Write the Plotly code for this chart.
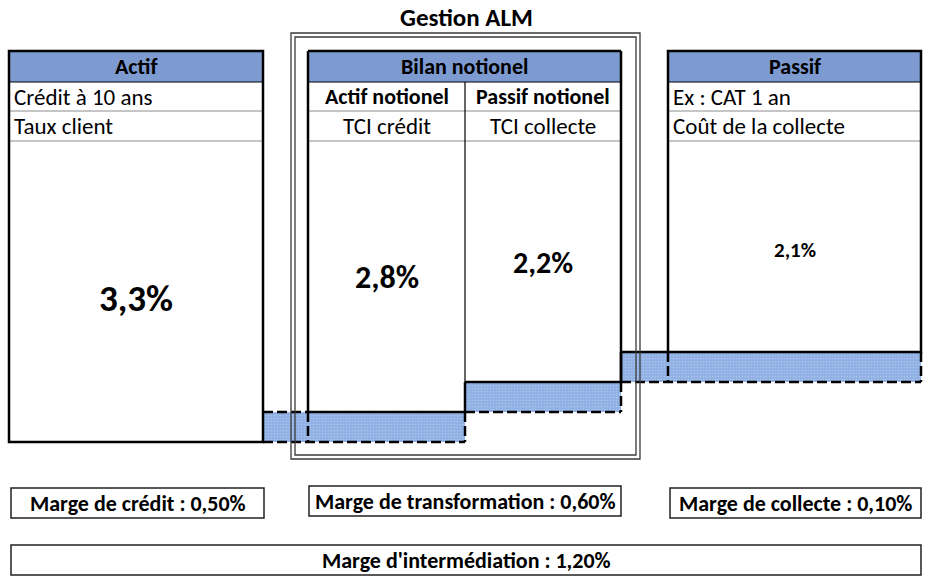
import plotly.graph_objects as go

# ---- data ----
title = "Gestion ALM"
col_titles = ["Actif", "Bilan notionel", "Passif"]
actif_rows = ["Crédit à 10 ans", "Taux client"]
passif_rows = ["Ex : CAT 1 an", "Coût de la collecte"]
notional_heads = ["Actif notionel", "Passif notionel"]
notional_rows = ["TCI crédit", "TCI collecte"]
rates = [3.3, 2.8, 2.2, 2.1]          # Actif, Actif notionel, Passif notionel, Passif
margin_names = ["Marge de crédit", "Marge de transformation", "Marge de collecte"]
margin_values = [0.50, 0.60, 0.10]
total_name = "Marge d'intermédiation"
total_value = 1.20


def pct(v, d=1):
    return f"{v:.{d}f}".replace(".", ",") + "%"


FONT = "Carlito, Lato, sans-serif"
HEAD = "#7d9bd0"
BAND = "#8fb0e4"
BLACK = "#000000"
GRAY = "#8c8c8c"
REG = 23
BOLD = 22

fig = go.Figure()
shapes = []
ann = []


def line(x0, y0, x1, y1, w=2.5, color=BLACK, dash=None):
    d = dict(type="line", xref="x", yref="y", x0=x0, y0=y0, x1=x1, y1=y1,
             line=dict(color=color, width=w), layer="above")
    if dash:
        d["line"]["dash"] = dash
    shapes.append(d)


def rect(x0, y0, x1, y1, fill=None, w=2.5, color=BLACK, layer="above"):
    d = dict(type="rect", xref="x", yref="y", x0=x0, y0=y0, x1=x1, y1=y1,
             line=dict(color=color, width=w), layer=layer)
    if fill:
        d["fillcolor"] = fill
    shapes.append(d)


def text(x, y, s, size=15, bold=False, xanchor="center", yanchor="middle"):
    ann.append(dict(x=x, y=y, xref="x", yref="y", text=f"<b>{s}</b>" if bold else s,
                    showarrow=False, xanchor=xanchor, yanchor=yanchor,
                    font=dict(family=FONT, size=size, color=BLACK)))


def band(x0, y0, x1, y1):
    fig.add_trace(go.Scatter(x=[x0, x1, x1, x0, x0], y=[y0, y0, y1, y1, y0],
                             mode="lines", line=dict(width=0), fill="toself",
                             fillcolor=BAND,
                             fillpattern=dict(shape=".", bgcolor=BAND, fgcolor="#c8d8f2",
                                              size=3, solidity=0.25),
                             hoverinfo="skip", showlegend=False))


DASH = "10px,4px"

# geometry
yT, yH, yR1, yR2 = 51, 82, 111, 141
ax0, ax1, ay = 9, 263, 442
bx0, bm, bx1 = 308, 465, 621
by_l, by_r = 412, 382
px0, px1, py = 668, 921, 352

# blue margin bands
band(ax1, by_l, bm, ay)
band(bm, by_r, bx1, by_l)
band(bx1, py, px1, by_r)

# headers
rect(ax0, yT, ax1, yH, fill=HEAD, w=0, layer="below")
rect(bx0, yT, bx1, yH, fill=HEAD, w=0, layer="below")
rect(px0, yT, px1, yH, fill=HEAD, w=0, layer="below")

# --- Actif box
for yy in (yR1, yR2):
    line(ax0, yy, ax1, yy, w=1, color=GRAY)
line(ax0, yH, ax1, yH, w=1.2)
rect(ax0, yT, ax1, ay)
text((ax0 + ax1) / 2, (yT + yH) / 2, col_titles[0], BOLD, True)
text(ax0 + 3, (yH + yR1) / 2, actif_rows[0], REG, xanchor="left")
text(ax0 + 3, (yR1 + yR2) / 2, actif_rows[1], REG, xanchor="left")
text((ax0 + ax1) / 2, 298, pct(rates[0]), 37, True)

# --- Bilan notionel box
for yy in (yR1, yR2):
    line(bx0, yy, bx1, yy, w=1, color=GRAY)
line(bx0, yH, bx1, yH, w=1.2)
line(bm, yH, bm, by_r, w=1.2)
line(bx0, yT, bx1, yT)
line(bx0, yT, bx0, by_l)
line(bx1, yT, bx1, by_r)
line(bx0, by_l, bm, by_l)
line(bm, by_r, bm, by_l)
line(bm, by_r, bx1, by_r)
text((bx0 + bx1) / 2, (yT + yH) / 2, col_titles[1], BOLD, True)
text((bx0 + bm) / 2, (yH + yR1) / 2, notional_heads[0], BOLD, True)
text((bm + bx1) / 2, (yH + yR1) / 2, notional_heads[1], BOLD, True)
text((bx0 + bm) / 2, (yR1 + yR2) / 2, notional_rows[0], REG)
text((bm + bx1) / 2, (yR1 + yR2) / 2, notional_rows[1], REG)
text((bx0 + bm) / 2, 277, pct(rates[1]), 32, True)
text((bm + bx1) / 2, 262, pct(rates[2]), 30, True)

# --- Passif box
for yy in (yR1, yR2):
    line(px0, yy, px1, yy, w=1, color=GRAY)
line(px0, yH, px1, yH, w=1.2)
rect(px0, yT, px1, py)
text((px0 + px1) / 2, (yT + yH) / 2, col_titles[2], BOLD, True)
text(px0 + 3, (yH + yR1) / 2, passif_rows[0], REG, xanchor="left")
text(px0 + 3, (yR1 + yR2) / 2, passif_rows[1], REG, xanchor="left")
text((px0 + px1) / 2, 250, pct(rates[3]), 21, True)

# band edges
line(ax1, by_l, bx0, by_l, dash=DASH)
line(ax1, ay, bm, ay, dash=DASH)
line(bx0, by_l, bx0, ay, dash=DASH)
line(bm, by_l, bm, ay, dash=DASH)
line(bm, by_l, bx1, by_l, dash=DASH)
line(bx1, by_r, bx1, by_l, dash=DASH)
line(bx1, py, px0, py)
line(bx1, py, bx1, by_r)
line(bx1, by_r, px1, by_r, dash=DASH)
line(px0, py, px0, by_r, dash=DASH)
line(px1, py, px1, by_r, dash=DASH)

# --- Gestion ALM double frame
rect(291, 33, 640, 459, w=1.3, color="#3a3a3a")
rect(295, 37, 636, 455, w=1.3, color="#3a3a3a")
text(466, 17, title, 25, True)

# --- margin boxes
mboxes = [(11, 488, 264, 518), (309, 486, 621, 516), (670, 488, 921, 518)]
for (x0, y0, x1, y1), nm, v in zip(mboxes, margin_names, margin_values):
    rect(x0, y0, x1, y1, w=1.5, color="#222222")
    text((x0 + x1) / 2, (y0 + y1) / 2, f"{nm} : {pct(v, 2)}", BOLD, True)
rect(11, 545, 921, 575, w=1.5, color="#222222")
text(466, 560, f"{total_name} : {pct(total_value, 2)}", BOLD, True)

fig.update_layout(
    width=926, height=581,
    margin=dict(l=0, r=0, t=0, b=0),
    paper_bgcolor="white", plot_bgcolor="white",
    xaxis=dict(range=[0, 926], visible=False, fixedrange=True),
    yaxis=dict(range=[581, 0], visible=False, fixedrange=True),
    shapes=shapes, annotations=ann, showlegend=False,
)
fig.write_html("out.html", config={"displayModeBar": False})

# remove default page margin so the figure sits at the window origin
with open("out.html", "r", encoding="utf-8") as f:
    html = f.read()
html = html.replace("<head>", "<head><style>html,body{margin:0;padding:0;overflow:hidden;}</style>", 1)
with open("out.html", "w", encoding="utf-8") as f:
    f.write(html)
